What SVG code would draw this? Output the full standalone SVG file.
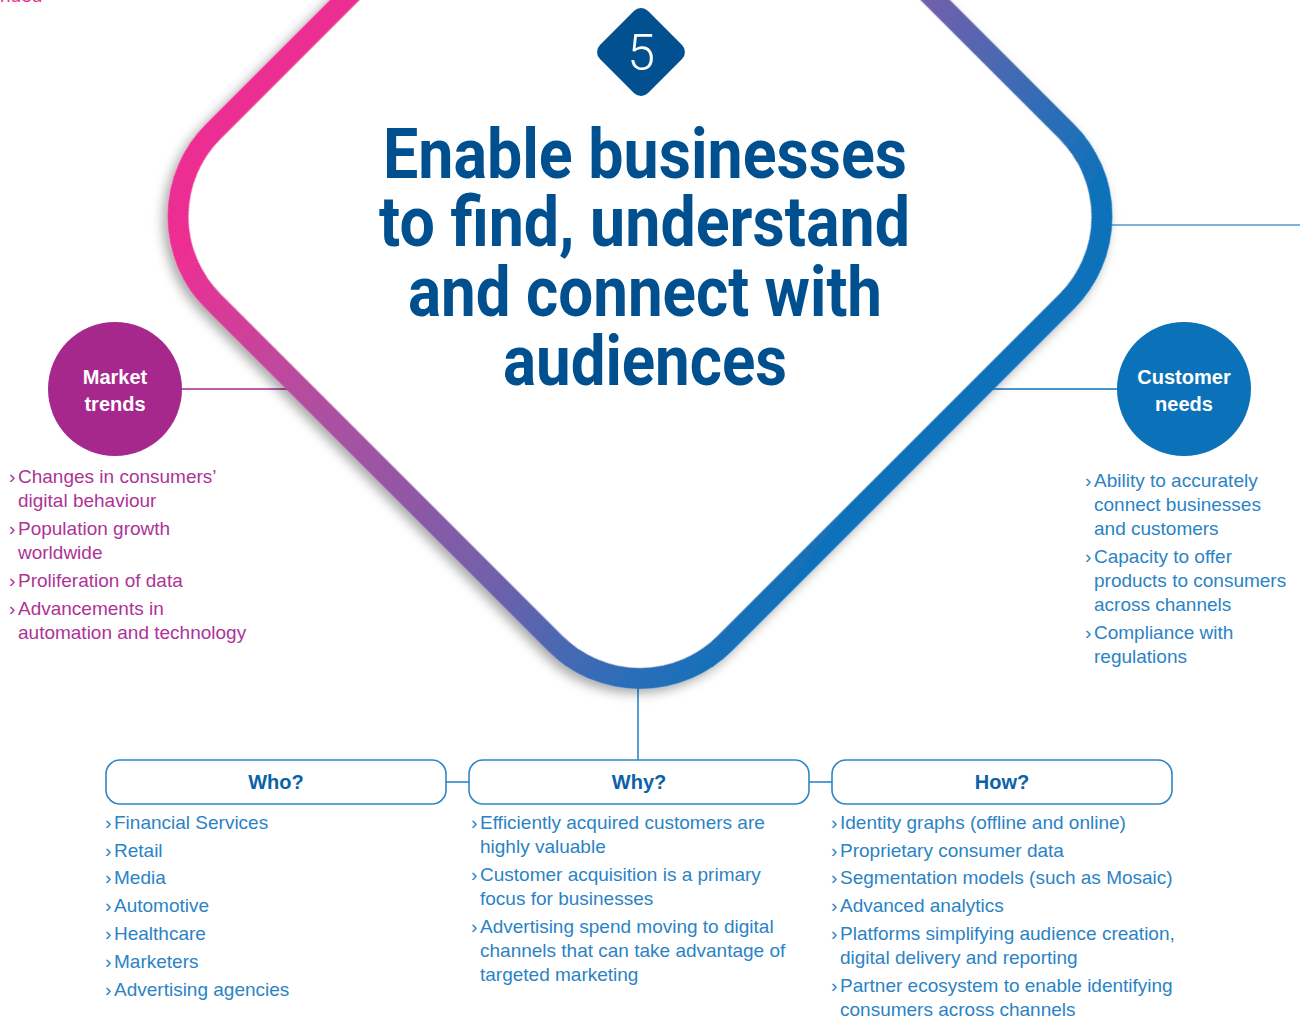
<svg xmlns="http://www.w3.org/2000/svg" width="1300" height="1021" viewBox="0 0 1300 1021">
<defs>
<linearGradient id="ringGrad" gradientUnits="userSpaceOnUse" x1="239" y1="181" x2="798" y2="602" gradientTransform="rotate(-45 640 216.5)">
<stop offset="0" stop-color="#EC2F93"/>
<stop offset="0.24" stop-color="#B84C9E"/>
<stop offset="0.63" stop-color="#7260AA"/>
<stop offset="0.86" stop-color="#2F6DB7"/>
<stop offset="1" stop-color="#0B72BA"/>
</linearGradient>
<filter id="shadow" x="-10%" y="-10%" width="120%" height="120%">
<feDropShadow dx="0" dy="6" stdDeviation="6" flood-color="#000" flood-opacity="0.35"/>
</filter>
<style>
.body{font-family:"Liberation Sans",Arial,sans-serif;font-size:19px;}
.mt{fill:#AE3397;}
.bl{fill:#2B83C5;}
.circ{font-family:"Liberation Sans",Arial,sans-serif;font-size:20px;font-weight:bold;fill:#fff;text-anchor:middle;}
.title{font-family:Roboto,"Liberation Sans",sans-serif;font-size:70px;font-weight:700;fill:#00508F;text-anchor:middle;}
.boxlbl{font-family:"Liberation Sans",Arial,sans-serif;font-size:20px;font-weight:bold;fill:#0A62A9;text-anchor:middle;}
.box{fill:#fff;stroke:#2D86C6;stroke-width:1.6;}
.conn{fill:none;stroke-width:1.6;}
</style>
</defs>
<rect width="1300" height="1021" fill="#fff"/>
<text class="body" x="0" y="2" fill="#EC2F93">nded</text>

<g id="connectors">
<line class="conn" x1="182" y1="389" x2="300" y2="389" stroke="#A6288D"/>
<line class="conn" x1="985" y1="389" x2="1118" y2="389" stroke="#0B72BA"/>
<line class="conn" x1="1105" y1="225" x2="1300" y2="225" stroke="#4E9BD2" stroke-width="2"/>
<line class="conn" x1="638" y1="680" x2="638" y2="760" stroke="#2D86C6"/>
<line class="conn" x1="446" y1="782" x2="469" y2="782" stroke="#2D86C6"/>
<line class="conn" x1="809" y1="782" x2="832" y2="782" stroke="#2D86C6"/>
</g>

<g id="main-node">
<rect x="278.2" y="-145.3" width="723.6" height="723.6" rx="120" ry="120" transform="rotate(45 640 216.5)" fill="#fff" stroke="url(#ringGrad)" stroke-width="21" filter="url(#shadow)"/>
<g id="number">
<rect x="607" y="18" width="68" height="68" rx="10" ry="10" transform="rotate(45 641 52)" fill="#02508F"/>
<text x="641" y="70" font-family="Roboto,'Liberation Sans',sans-serif" font-weight="300" font-size="50" fill="#fff" text-anchor="middle">5</text>
</g>
<text class="title" x="645" y="178" textLength="524" lengthAdjust="spacingAndGlyphs">Enable businesses</text>
<text class="title" x="644.5" y="246" textLength="531" lengthAdjust="spacingAndGlyphs">to find, understand</text>
<text class="title" x="645" y="316" textLength="474" lengthAdjust="spacingAndGlyphs">and connect with</text>
<text class="title" x="645" y="385" textLength="284" lengthAdjust="spacingAndGlyphs">audiences</text>
</g>

<g id="market-trends">
<circle cx="115" cy="389" r="67" fill="#A6288D"/>
<text class="circ" x="115" y="384">Market</text>
<text class="circ" x="115" y="411">trends</text>
<g class="body mt">
<text x="9" y="483">›</text><text x="18" y="483">Changes in consumers’</text>
<text x="18" y="507">digital behaviour</text>
<text x="9" y="535">›</text><text x="18" y="535">Population growth</text>
<text x="18" y="559">worldwide</text>
<text x="9" y="587">›</text><text x="18" y="587">Proliferation of data</text>
<text x="9" y="615">›</text><text x="18" y="615">Advancements in</text>
<text x="18" y="639">automation and technology</text>
</g>
</g>

<g id="customer-needs">
<circle cx="1184" cy="389" r="67" fill="#0B72BA"/>
<text class="circ" x="1184" y="384">Customer</text>
<text class="circ" x="1184" y="411">needs</text>
<g class="body bl">
<text x="1085" y="487">›</text><text x="1094" y="487">Ability to accurately</text>
<text x="1094" y="511">connect businesses</text>
<text x="1094" y="535">and customers</text>
<text x="1085" y="563">›</text><text x="1094" y="563">Capacity to offer</text>
<text x="1094" y="587">products to consumers</text>
<text x="1094" y="611">across channels</text>
<text x="1085" y="639">›</text><text x="1094" y="639">Compliance with</text>
<text x="1094" y="663">regulations</text>
</g>
</g>

<g id="who">
<rect class="box" x="106" y="760" width="340" height="44" rx="14" ry="14"/>
<text class="boxlbl" x="276" y="789">Who?</text>
<g class="body bl">
<text x="105" y="829">›</text><text x="114" y="829">Financial Services</text>
<text x="105" y="857">›</text><text x="114" y="857">Retail</text>
<text x="105" y="884">›</text><text x="114" y="884">Media</text>
<text x="105" y="912">›</text><text x="114" y="912">Automotive</text>
<text x="105" y="940">›</text><text x="114" y="940">Healthcare</text>
<text x="105" y="968">›</text><text x="114" y="968">Marketers</text>
<text x="105" y="996">›</text><text x="114" y="996">Advertising agencies</text>
</g>
</g>

<g id="why">
<rect class="box" x="469" y="760" width="340" height="44" rx="14" ry="14"/>
<text class="boxlbl" x="639" y="789">Why?</text>
<g class="body bl">
<text x="471" y="829">›</text><text x="480" y="829">Efficiently acquired customers are</text>
<text x="480" y="853">highly valuable</text>
<text x="471" y="881">›</text><text x="480" y="881">Customer acquisition is a primary</text>
<text x="480" y="905">focus for businesses</text>
<text x="471" y="933">›</text><text x="480" y="933">Advertising spend moving to digital</text>
<text x="480" y="957">channels that can take advantage of</text>
<text x="480" y="981">targeted marketing</text>
</g>
</g>

<g id="how">
<rect class="box" x="832" y="760" width="340" height="44" rx="14" ry="14"/>
<text class="boxlbl" x="1002" y="789">How?</text>
<g class="body bl">
<text x="831" y="829">›</text><text x="840" y="829">Identity graphs (offline and online)</text>
<text x="831" y="857">›</text><text x="840" y="857">Proprietary consumer data</text>
<text x="831" y="884">›</text><text x="840" y="884">Segmentation models (such as Mosaic)</text>
<text x="831" y="912">›</text><text x="840" y="912">Advanced analytics</text>
<text x="831" y="940">›</text><text x="840" y="940">Platforms simplifying audience creation,</text>
<text x="840" y="964">digital delivery and reporting</text>
<text x="831" y="992">›</text><text x="840" y="992">Partner ecosystem to enable identifying</text>
<text x="840" y="1016">consumers across channels</text>
</g>
</g>
</svg>
